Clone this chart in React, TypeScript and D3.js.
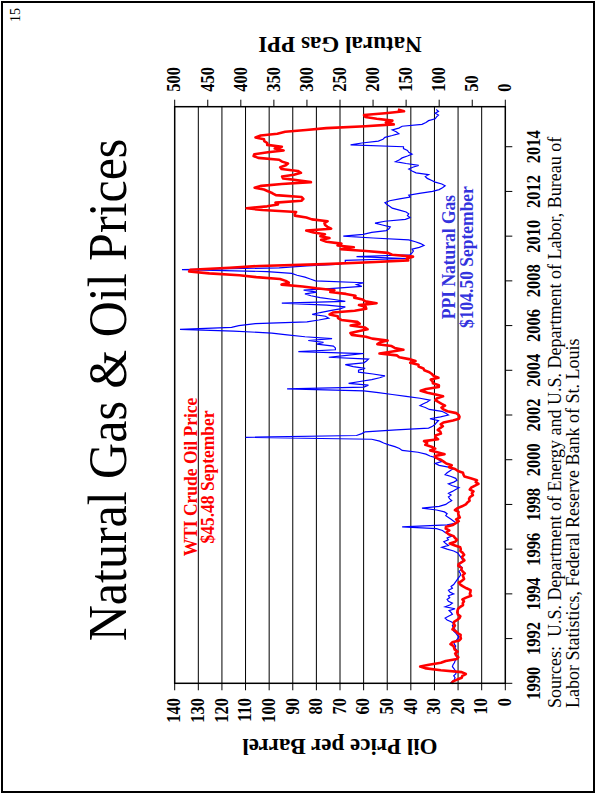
import * as d3 from 'd3';

// monthly series, first point = Jan 1990
const startYear = 1990;
const yearTicks = [1990, 1992, 1994, 1996, 1998, 2000, 2002, 2004, 2006, 2008, 2010, 2012, 2014];
const oilTicks = [0, 10, 20, 30, 40, 50, 60, 70, 80, 90, 100, 110, 120, 130, 140];
const gasTicks = [0, 50, 100, 150, 200, 250, 300, 350, 400, 450, 500];

// WTI crude, $ per barrel
const wtiPrice = [
  22.86, 22.11, 20.39, 18.43, 18.2, 16.7, 18.45, 27.31, 33.51, 36.04, 32.33, 27.28,
  25.23, 20.48, 19.9, 20.83, 21.23, 20.19, 21.4, 21.69, 21.89, 23.23, 22.46, 19.5,
  18.79, 19.01, 18.92, 20.23, 20.98, 22.37, 21.78, 21.34, 21.88, 21.69, 20.34, 19.41,
  19.03, 20.09, 20.32, 20.25, 19.95, 19.09, 17.89, 18.01, 17.5, 18.15, 16.61, 14.52,
  15.03, 14.78, 14.68, 16.42, 17.89, 19.06, 19.66, 18.38, 17.45, 17.72, 18.07, 17.16,
  18.04, 18.57, 18.54, 19.9, 19.74, 18.45, 17.33, 18.02, 18.23, 17.43, 17.99, 19.03,
  18.85, 19.09, 21.33, 23.5, 21.17, 20.42, 21.3, 21.9, 23.97, 24.88, 23.71, 25.23,
  25.13, 22.18, 20.97, 19.7, 20.82, 19.26, 19.66, 19.95, 19.8, 21.33, 20.19, 18.33,
  16.72, 16.06, 15.12, 15.35, 14.91, 13.72, 14.17, 13.47, 15.03, 14.46, 13.0, 11.35,
  12.52, 12.01, 14.68, 17.31, 17.72, 17.92, 20.1, 21.28, 23.8, 22.69, 25.0, 26.1,
  27.26, 29.37, 29.84, 25.72, 28.79, 31.82, 29.7, 31.26, 33.88, 33.11, 34.42, 28.44,
  29.59, 29.61, 27.25, 27.49, 28.63, 27.6, 26.43, 27.37, 26.2, 22.17, 19.64, 19.39,
  19.72, 20.72, 24.53, 26.18, 27.04, 25.52, 26.97, 28.39, 29.66, 28.84, 26.35, 29.46,
  32.95, 35.83, 33.51, 28.17, 28.11, 30.66, 30.75, 31.57, 28.31, 30.34, 31.11, 32.13,
  34.31, 34.69, 36.74, 36.75, 40.28, 38.03, 40.78, 44.9, 45.94, 53.28, 48.47, 43.15,
  46.84, 48.15, 54.19, 52.98, 49.83, 56.35, 59.0, 64.99, 65.59, 62.26, 58.32, 59.41,
  65.49, 61.63, 62.69, 69.44, 70.84, 70.95, 74.41, 73.04, 63.8, 58.89, 59.08, 61.96,
  54.51, 59.28, 60.44, 63.98, 63.46, 67.49, 74.12, 72.36, 79.92, 85.8, 94.77, 91.69,
  92.97, 95.39, 105.45, 112.58, 125.4, 133.88, 133.37, 116.67, 104.11, 76.61, 57.31, 41.12,
  41.71, 39.09, 47.94, 49.65, 59.03, 69.64, 64.15, 71.05, 69.41, 75.72, 77.99, 74.47,
  78.33, 76.39, 81.2, 84.29, 73.74, 75.34, 76.32, 76.6, 75.24, 81.89, 84.25, 89.15,
  89.17, 88.58, 102.86, 109.53, 100.9, 96.26, 97.3, 86.33, 85.52, 86.32, 97.16, 98.56,
  100.27, 102.2, 106.16, 103.32, 94.66, 82.3, 87.9, 94.13, 94.51, 89.49, 86.53, 87.86,
  94.76, 95.31, 92.94, 92.02, 94.51, 95.77, 104.67, 106.57, 106.29, 100.54, 93.86, 97.63,
  94.62, 100.82, 100.8, 102.07, 102.18, 105.79, 103.59, 96.54, 93.21, 84.4, 75.79, 59.29,
  47.22, 50.58, 47.82, 54.45, 59.27, 59.82, 50.9, 42.87, 45.48,
];

// PPI natural gas index
const gasPpi = [
  83, 80, 77, 76, 78, 75, 74, 76, 78, 80, 79, 77,
  76, 74, 73, 75, 74, 72, 74, 76, 75, 77, 78, 74,
  72, 70, 73, 75, 78, 76, 79, 80, 77, 82, 88, 91,
  86, 80, 82, 85, 76, 91, 84, 80, 86, 88, 84, 86,
  78, 84, 86, 80, 82, 78, 76, 74, 72, 70, 68, 68,
  70, 67, 65, 68, 70, 66, 64, 66, 68, 70, 72, 78,
  88, 96, 86, 90, 93, 86, 88, 81, 86, 91, 95, 104,
  156, 88, 74, 78, 82, 86, 90, 88, 92, 104, 126, 100,
  90, 86, 81, 84, 86, 82, 86, 80, 75, 70, 80, 86,
  78, 73, 75, 82, 91, 88, 84, 80, 86, 100, 106, 96,
  101, 104, 114, 120, 132, 156, 160, 167, 176, 184, 190, 202,
  393, 225, 217, 212, 165, 116, 110, 106, 104, 101, 114, 98,
  86, 90, 96, 115, 121, 129, 124, 118, 114, 129, 150, 171,
  192, 214, 330, 214, 207, 237, 220, 202, 190, 182, 200, 222,
  222, 212, 230, 242, 214, 210, 207, 267, 240, 214, 313, 257,
  257, 260, 285, 275, 298, 262, 303, 330, 353, 411, 492, 414,
  403, 378, 300, 282, 267, 272, 292, 280, 265, 250, 242, 270,
  338, 242, 259, 280, 294, 303, 285, 305, 260, 217, 225, 214,
  287, 295, 303, 315, 323, 360, 489, 342, 300, 250, 242, 242,
  150, 225, 144, 141, 139, 141, 130, 123, 128, 136, 146, 200,
  245, 215, 202, 180, 176, 174, 186, 197, 182, 151, 144, 148,
  146, 150, 160, 171, 175, 179, 182, 175, 160, 144, 146, 130,
  110, 100, 95, 91, 96, 106, 112, 118, 121, 116, 135, 141,
  146, 140, 131, 150, 166, 160, 156, 148, 141, 146, 148, 154,
  154, 234, 217, 192, 185, 182, 171, 161, 165, 171, 161, 156,
  126, 120, 116, 106, 104, 101, 106, 101, 104.5,
];

const serif = "'Liberation Serif', 'Times New Roman', serif";
const S = 1.1; // glyphs in the original look a bit taller than wide

export default function App() {
  const width = 597;
  const height = 797;
  // chart is laid out landscape (u across, v down) and turned a quarter to the left
  const box = { left: 113.7, right: 690.3, top: 174.7, bottom: 505.3 };

  const x = d3.scaleLinear().domain([1990, 2015.79]).range([box.left, box.right]);
  const yOil = d3.scaleLinear().domain([0, 140]).range([box.bottom, box.top]);
  const yGas = d3.scaleLinear().domain([0, 500]).range([box.bottom, box.top]);
  const month = (i: number) => startYear + i / 12;

  const oilPath = d3.line<number>().x((d, i) => x(month(i))).y((d) => yOil(d))(wtiPrice);
  const gasPath = d3.line<number>().x((d, i) => x(month(i))).y((d) => yGas(d))(gasPpi);

  return (
    <svg width={width} height={height} style={{ position: 'absolute', left: 0, top: 0, background: '#fff' }}>
      <rect x={2} y={2} width={592} height={790} fill="none" stroke="#000" strokeWidth={2} />
      <g transform={`translate(0,${height}) rotate(-90)`} fontFamily={serif}>
        <g transform={`translate(789,20) scale(1,${S})`}>
          <text fontSize={14} textAnchor="end">15</text>
        </g>
        <g transform={`translate(407,126) scale(1,1.1)`}>
          <text fontSize={50} textAnchor="middle">Natural Gas &amp; Oil Prices</text>
        </g>

        {/* grid */}
        {oilTicks.slice(1, -1).map((t) => (
          <line key={t} x1={box.left} x2={box.right} y1={yOil(t)} y2={yOil(t)} stroke="#000" strokeWidth={1} />
        ))}

        <path d={gasPath ?? ''} fill="none" stroke="#0000ff" strokeWidth={1.2} />
        <path d={oilPath ?? ''} fill="none" stroke="#ff0000" strokeWidth={2.6} strokeLinejoin="round" />

        <rect x={box.left} y={box.top} width={box.right - box.left} height={box.bottom - box.top} fill="none" stroke="#000" strokeWidth={1.5} />

        {/* oil axis */}
        {oilTicks.map((t) => (
          <g key={t}>
            <line x1={box.left - 7} x2={box.left} y1={yOil(t)} y2={yOil(t)} stroke="#000" />
            <g transform={`translate(99,${yOil(t)}) scale(1,${S})`}>
              <text fontSize={16.5} fontWeight="bold" textAnchor="end" dominantBaseline="central">{t}</text>
            </g>
          </g>
        ))}
        {/* gas axis */}
        {gasTicks.map((t) => (
          <g key={t}>
            <line x1={box.right} x2={box.right + 7} y1={yGas(t)} y2={yGas(t)} stroke="#000" />
            <g transform={`translate(705.3,${yGas(t)}) scale(1,${S})`}>
              <text fontSize={16.5} fontWeight="bold" dominantBaseline="central">{t}</text>
            </g>
          </g>
        ))}
        {/* years */}
        {yearTicks.map((yr) => (
          <g key={yr}>
            <line x1={x(yr)} x2={x(yr)} y1={box.bottom} y2={box.bottom + 7} stroke="#000" />
            <g transform={`translate(${x(yr)},540) scale(1,${S})`}>
              <text fontSize={16.5} fontWeight="bold" textAnchor="middle">{yr}</text>
            </g>
          </g>
        ))}

        <text transform={`translate(58,340) rotate(-90)`} fontSize={23} fontWeight="bold" textAnchor="middle">Oil Price per Barrel</text>
        <text transform={`translate(760,340) rotate(-90)`} fontSize={23} fontWeight="bold" textAnchor="middle">Natural Gas PPI</text>

        <g transform={`translate(320,197) scale(1,${S})`} fill="#ff0000" fontWeight="bold" fontSize={17.5}>
          <text textAnchor="middle">WTI Crude Oil Price</text>
        </g>
        <g transform={`translate(320,214) scale(1,${S})`} fill="#ff0000" fontWeight="bold" fontSize={17.5}>
          <text textAnchor="middle">$45.48 September</text>
        </g>
        <g transform={`translate(540,455) scale(1,${S})`} fill="#3333dd" fontWeight="bold" fontSize={17.5}>
          <text textAnchor="middle">PPI Natural Gas</text>
        </g>
        <g transform={`translate(540,473) scale(1,${S})`} fill="#3333dd" fontWeight="bold" fontSize={17.5}>
          <text textAnchor="middle">$104.50 September</text>
        </g>

        <text x={89} y={561} fontSize={18} xmlSpace="preserve">{'Sources:  U.S. Department of Energy and U.S. Department of Labor, Bureau of'}</text>
        <text x={89} y={579} fontSize={18}>Labor Statistics, Federal Reserve Bank of St. Louis</text>
      </g>
    </svg>
  );
}
